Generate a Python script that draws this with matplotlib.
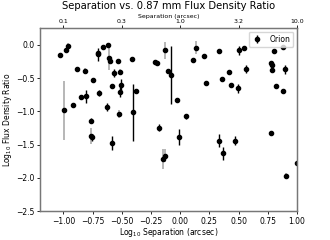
import numpy as np
import matplotlib
matplotlib.use("Agg")
import matplotlib.pyplot as plt

# log10 separation (arcsec), log10 flux ratio, error -- black error bars
sep_black = [-1.026, -0.977, -0.707, -0.70, -0.664, -0.615, -0.60, -0.536, -0.88, -0.75,
             -0.57, -0.581, -0.51, -0.519, -0.695, -0.803, -0.849, -0.92, -0.624, -0.763,
             -0.755, -0.587, -0.408, -0.216, -0.197, -0.108, -0.08, 0.111, 0.2, 0.222,
             -0.376, -0.40, -0.026, 0.051, -0.177, -0.014, 0.336, 0.507, 0.55, 0.8,
             0.878, 0.416, 0.567, 0.78, 0.784, 0.789, 0.897, 0.362, 0.436, 0.499,
             0.818, 0.878, 0.336, 0.37, 0.47, 0.78, 1.0]
ratio_black = [-0.159, -0.085, -0.144, -0.12, -0.035, -0.005, -0.24, -0.243, -0.362, -0.53,
               -0.427, -0.625, -0.60, -0.71, -0.724, -0.774, -0.778, -0.898, -0.928, -1.14,
               -1.39, -1.478, -0.208, -0.263, -0.278, -0.402, -0.456, -0.223, -0.169, -0.58,
               -0.695, -1.017, -0.829, -1.076, -1.245, -1.379, -0.10, -0.085, -0.055, -0.10,
               -0.03, -0.41, -0.367, -0.278, -0.308, -0.387, -0.367, -0.516, -0.60, -0.655,
               -0.62, -0.69, -1.443, -1.632, -1.443, -1.32, -1.77]
err_black = [0.02, 0.03, 0.10, 0.03, 0.0, 0.02, 0.02, 0.0, 0.0, 0.0,
             0.06, 0.0, 0.09, 0.07, 0.04, 0.10, 0.0, 0.0, 0.06, 0.04,
             0.05, 0.10, 0.03, 0.0, 0.0, 0.0, 0.44, 0.0, 0.0, 0.0,
             0.0, 0.43, 0.0, 0.04, 0.05, 0.12, 0.0, 0.07, 0.0, 0.0,
             0.0, 0.0, 0.06, 0.0, 0.0, 0.0, 0.07, 0.0, 0.0, 0.07,
             0.0, 0.0, 0.10, 0.10, 0.07, 0.0, 0.0]

# points drawn with grey error bars
sep_grey = [-0.957, -0.605, -0.815, -0.513, -0.99, -0.524, -0.763, -0.128, 0.134, -0.145,
            -0.128, 0.903]
ratio_grey = [-0.025, -0.204, -0.392, -0.41, -0.987, -1.037, -1.364, -0.085, -0.045, -1.71,
              -1.667, -1.97]
err_grey = [0.055, 0.18, 0.04, 0.04, 0.44, 0.06, 0.12, 0.126, 0.10, 0.15,
            0.10, 0.05]

top_ticks = [-1.0, -0.5, 0.0, 0.5, 1.0]
top_labels = ["%.1f" % (10 ** t) for t in top_ticks]

fig = plt.figure(figsize=(3.3, 2.4), dpi=100)
ax = fig.add_axes([0.121, 0.12, 0.779, 0.763])

ax.errorbar(sep_grey, ratio_grey, yerr=err_grey, fmt='o', color='k', ecolor='#aaaaaa',
            markersize=3.0, elinewidth=1.2, capsize=0)
ax.errorbar(sep_black, ratio_black, yerr=err_black, fmt='o', color='k', ecolor='k',
            markersize=3.0, elinewidth=1.0, capsize=0, label='Orion')

ax.set_xlim(-1.2, 1.0)
ax.set_ylim(-2.5, 0.25)
ax.set_xticks([-1.0, -0.75, -0.5, -0.25, 0.0, 0.25, 0.5, 0.75, 1.0])
ax.set_yticks([0.0, -0.5, -1.0, -1.5, -2.0, -2.5])
ax.tick_params(labelsize=5.5, length=2.5, width=0.6, pad=1.5)
ax.set_xlabel("Log$_{10}$ Separation (arcsec)", fontsize=5.5, labelpad=0.5)
ax.set_ylabel("Log$_{10}$ Flux Density Ratio", fontsize=5.5, labelpad=1)
for s in ax.spines.values():
    s.set_color('#777777')
    s.set_linewidth(0.9)

ax2 = ax.twiny()
ax2.set_xlim(ax.get_xlim())
ax2.set_xticks(top_ticks)
ax2.set_xticklabels(top_labels)
ax2.tick_params(labelsize=4.5, length=2, width=0.6, pad=1)
ax2.set_xlabel("Separation (arcsec)", fontsize=4.5, labelpad=1)
for s in ax2.spines.values():
    s.set_color('#777777')
    s.set_linewidth(0.9)

ax.set_title("Separation vs. 0.87 mm Flux Density Ratio", fontsize=7.2, pad=14)
ax.legend(loc='upper right', fontsize=5.5, handlelength=1.5, borderpad=0.4)

fig.savefig("out.png", dpi=100)
